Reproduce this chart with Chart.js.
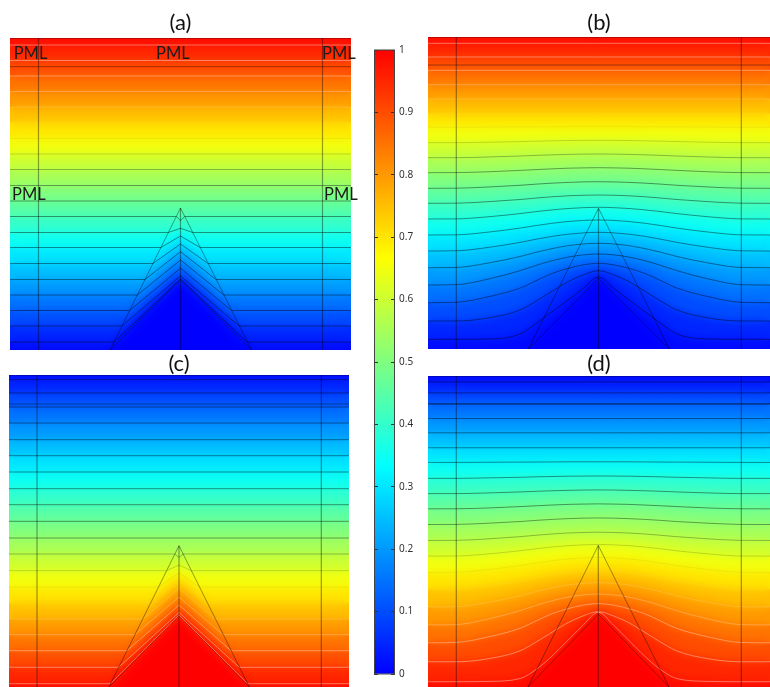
<!DOCTYPE html>
<html>
<head>
<meta charset="utf-8">
<title>Potential field over a triangular ridge</title>
<script src="https://cdn.jsdelivr.net/npm/chart.js"></script>
<style>
  html, body { margin: 0; padding: 0; background: #fff; overflow: hidden; }
  #page { position: relative; width: 770px; height: 687px; overflow: hidden; }
  canvas { position: absolute; }
</style>
</head>
<body>
<div id="page"></div>
<script>
// colour scale of the figure, value -> colour
const scaleValues = [0, 1 / 3, 2 / 3, 1];
const scaleColors = [[0, 0, 255], [0, 255, 255], [255, 255, 0], [255, 0, 0]];
const barTicks = [0, 0.1, 0.2, 0.3, 0.4, 0.5, 0.6, 0.7, 0.8, 0.9, 1];

// contour levels, listed from the top of a panel down
const levelsDown = [0.975, 0.925, 0.875, 0.825, 0.775, 0.725, 0.675, 0.625, 0.575, 0.525,
                    0.475, 0.425, 0.375, 0.325, 0.275, 0.225, 0.175, 0.125, 0.075, 0.025];
const levelsUp = levelsDown.slice().reverse();

// panel (a): straight levels, depth below the top edge
const depthA = [7, 22.5, 38, 53.5, 69, 84.5, 100.5, 116, 131.5, 147.5, 163, 178.5, 194.5, 209.5, 225.5, 241.5, 257, 272.5, 288, 304];
const peakA = [182.7, 190.3, 198, 206, 213.7, 222, 230.3, 238, 241];
const edgeA = [166.3, 158.3, 150.9, 143, 135, 127.3, 119.6, 111.9, 104];

// panel (c)
const depthC = [4.7, 18, 32, 48, 64.7, 80.7, 97, 113.7, 129.7, 146.3, 163, 179, 195.7, 212, 228, 244, 259.7, 275.7, 292.3, 308.7];
const peakC = [182.5, 190, 198, 206, 213.5, 222, 230, 237.5, 240];
const edgeC = [165.9, 157.6, 149.5, 141.6, 133.6, 125.8, 117.9, 109.6, 101.5];

// panels (b) and (d): bent levels, read on these columns up to the middle
const columnsX = [0, 28, 60, 92, 110, 125, 140, 155];
const curvesB = [
  [6.3, 6.3, 6.3, 6.3, 6.3, 6.3, 6.3, 6.3, 6.3],
  [20, 20, 20, 20, 20, 20, 20, 20, 20],
  [33.3, 33.3, 33.3, 33.3, 33.3, 33.3, 33.3, 33.3, 33.3],
  [47.7, 47.7, 47.7, 47.7, 47.7, 47.7, 47.7, 47.7, 47.7],
  [62, 62, 62, 62, 62, 62, 62, 62, 62],
  [76.7, 76.7, 76.7, 76.7, 76.7, 76.7, 76.7, 76.7, 76.7],
  [90.3, 90.3, 90.1, 90, 89.9, 89.8, 89.7, 89.7, 89.7],
  [105.7, 105.7, 105.2, 104.6, 104.1, 103.8, 103.5, 103.4, 103.3],
  [120.7, 120.7, 120, 119, 118.3, 117.8, 117.4, 117.1, 117],
  [135.7, 135.6, 134.8, 133.4, 132.5, 131.8, 131.2, 130.9, 130.7],
  [151.3, 151.2, 150, 148.3, 147, 146.1, 145.4, 144.9, 144.7],
  [166.3, 166.2, 164.7, 162.5, 160.9, 159.7, 158.8, 158.25, 158],
  [182, 181.9, 179.8, 176.6, 174.4, 172.8, 171.5, 170.7, 170.3],
  [198, 197.85, 195.15, 191.1, 188.25, 186.15, 184.5, 183.45, 183],
  [214, 213.8, 210.45, 205.4, 201.85, 199.2, 197.2, 195.9, 195.3],
  [230.7, 230.45, 226.1, 219.5, 214.8, 211.4, 208.7, 207, 206.3],
  [248, 247.7, 242.1, 233.7, 227.8, 223.5, 220.1, 217.9, 217],
  [265.7, 265.3, 259.8, 251.1, 242.8, 236.1, 231.4, 227.9, 226.3],
  [284, 284, 281, 273, 263, 253.7, 244.7, 238, 233.7],
  [302.3, 302.3, 302, 297, 285, 274, 263, 251.5, 240]
];
const curvesD = [
  [6, 6, 6, 6, 6, 6, 6, 6, 6],
  [17, 17, 17, 17, 17, 17, 17, 17, 17],
  [28, 28, 28, 28, 28, 28, 28, 28, 28],
  [42.7, 42.7, 42.7, 42.7, 42.7, 42.7, 42.7, 42.7, 42.7],
  [57, 57, 57, 57, 57, 57, 57, 57, 57],
  [72, 72, 72, 72, 72, 72, 72, 72, 72],
  [86.7, 86.7, 86.5, 86.4, 86.3, 86.2, 86.1, 86.1, 86.1],
  [102.7, 102.7, 102.2, 101.6, 101.1, 100.8, 100.5, 100.4, 100.3],
  [118, 118, 117.3, 116.3, 115.6, 115.1, 114.7, 114.4, 114.3],
  [133.3, 133.2, 132.4, 131, 130.1, 129.4, 128.8, 128.5, 128.3],
  [149, 148.9, 147.7, 146, 144.7, 143.8, 143.1, 142.6, 142.4],
  [165, 164.9, 163.4, 161.2, 159.6, 158.4, 157.5, 157, 156.7],
  [180.7, 180.6, 178.5, 175.3, 173.1, 171.5, 170.2, 169.4, 169],
  [197, 196.85, 194.15, 190.1, 187.25, 185.15, 183.5, 182.45, 182],
  [214, 213.8, 210.45, 205.4, 201.85, 199.2, 197.2, 195.9, 195.3],
  [231.7, 231.45, 227.1, 220.5, 215.8, 212.4, 209.7, 208, 207.3],
  [249.7, 249.4, 243.8, 235.4, 229.5, 225.2, 221.8, 219.6, 218.7],
  [267.7, 267.3, 261.8, 253.1, 244.8, 238.1, 233.4, 229.9, 228.3],
  [286.7, 286.7, 283.7, 275.7, 265.7, 256.4, 247.4, 240.7, 236.4],
  [306.7, 306.7, 306.4, 303.5, 293, 280, 265, 250, 237]
];

// PML captions of panel (a): x, baseline depth
const captions = ["PML", "PML", "PML", "PML", "PML"];
const captionX = [3.7, 146, 312, 2, 314];
const captionDepth = [21, 21, 21, 162, 162];

function colorAt(v) {
  let i = 0;
  while (i < scaleValues.length - 2 && v > scaleValues[i + 1]) i++;
  const t = (v - scaleValues[i]) / (scaleValues[i + 1] - scaleValues[i]);
  const c = scaleColors[i].map((a, k) => Math.round(a + (scaleColors[i + 1][k] - a) * t));
  return `rgb(${c[0]},${c[1]},${c[2]})`;
}

// dark lines low in the scale, pale ones high, nearly gone around yellow
function contourColor(v) {
  if (v < 0.7) return `rgba(0,0,0,${Math.min(0.42, (0.7 - v) * 2.2).toFixed(2)})`;
  return `rgba(255,255,255,${Math.min(0.38, (v - 0.7) * 2).toFixed(2)})`;
}

// straight level with a bent part inside the triangle
function straightLevel(p, i) {
  const d = p.depth[i];
  const k = i - (p.depth.length - p.peak.length);
  if (k < 0) return [{ x: 0, y: d }, { x: p.w, y: d }];
  const e = p.edge[k];
  return [{ x: 0, y: d }, { x: e, y: d }, { x: p.mid, y: p.peak[k] }, { x: 2 * p.mid - e, y: d }, { x: p.w, y: d }];
}

// bent level, the right half mirrors the left one
function bentLevel(p, i) {
  const row = p.curves[i];
  const left = columnsX.map((x, k) => ({ x: x, y: row[k] }));
  const right = columnsX.slice().reverse().map((x, k) => ({ x: x === 0 ? p.w : 2 * p.mid - x, y: row[row.length - 2 - k] }));
  return left.concat([{ x: p.mid, y: row[row.length - 1] }], right);
}

const softenFill = {
  id: "softenFill",
  beforeDraw(chart) { chart.$softened = false; },
  beforeDatasetDraw(chart, args) {
    const ds = chart.data.datasets[args.index];
    if (chart.$softened || !ds.afterFill) return;
    chart.$softened = true;
    const ctx = chart.ctx, a = chart.chartArea;
    ctx.save();
    ctx.beginPath();
    ctx.rect(a.left, a.top, a.right - a.left, a.bottom - a.top);
    ctx.clip();
    ctx.filter = "blur(5px)";
    ctx.drawImage(chart.canvas, 0, 0, chart.width, chart.height);
    ctx.restore();
  }
};

const pmlText = {
  id: "pmlText",
  afterDraw(chart) {
    if (!chart.$captions) return;
    const ctx = chart.ctx;
    ctx.save();
    ctx.font = '16.5px Lato';
    ctx.fillStyle = "#1c1c1c";
    ctx.textBaseline = "alphabetic";
    captions.forEach((t, i) => {
      ctx.fillText(t, chart.scales.x.getPixelForValue(captionX[i]), chart.scales.y.getPixelForValue(captionDepth[i]));
    });
    ctx.restore();
  }
};

function addCanvas(left, top, w, h) {
  const c = document.createElement("canvas");
  c.width = w; c.height = h;
  c.style.left = left + "px"; c.style.top = top + "px";
  c.style.width = w + "px"; c.style.height = h + "px";
  document.getElementById("page").appendChild(c);
  return c;
}

function drawPanel(p) {
  const count = p.levels.length;
  const shape = i => (p.curves ? bentLevel(p, i) : straightLevel(p, i));
  const sets = [];
  let order = 1000;
  const lineSet = (pts, color, extra) => Object.assign({
    data: pts, borderColor: color, borderWidth: 1, pointRadius: 0, fill: false, order: order--, afterFill: true
  }, extra || {});

  // the painted field: each band is filled from its upper level down to the bottom
  const topValue = (p.levels[0] + p.topEnd) / 2;
  sets.push({ data: [{ x: 0, y: 0 }, { x: p.w, y: 0 }], borderWidth: 0, pointRadius: 0, fill: { value: 312 }, backgroundColor: colorAt(topValue), order: order-- });
  for (let i = 0; i < count; i++) {
    const next = i < count - 1 ? p.levels[i + 1] : p.bottomEnd;
    sets.push({
      data: shape(i), borderWidth: 0, pointRadius: 0, fill: { value: 312 },
      backgroundColor: colorAt((p.levels[i] + next) / 2),
      cubicInterpolationMode: p.curves ? "monotone" : "default", order: order--
    });
  }

  // flat top of the ridge, kept sharp
  const base = [{ x: p.baseL, y: 312 }, { x: p.mid, y: p.flat }, { x: p.baseR, y: 312 }];
  sets.push(lineSet(base, "rgba(0,0,0,0.3)", { fill: { value: 312 }, backgroundColor: colorAt(p.bottomEnd) }));

  // contours
  for (let i = 0; i < count; i++) {
    sets.push(lineSet(shape(i), contourColor(p.levels[i]), { cubicInterpolationMode: p.curves ? "monotone" : "default" }));
  }

  // geometry lines
  const geo = "rgba(0,0,0,0.38)";
  sets.push(lineSet([{ x: p.pml[0], y: 0 }, { x: p.pml[0], y: 312 }], geo, { borderWidth: 1.2 }));
  sets.push(lineSet([{ x: p.pml[1], y: 0 }, { x: p.pml[1], y: 312 }], geo, { borderWidth: 1.2 }));
  sets.push(lineSet([{ x: 0, y: p.pmlDepth }, { x: p.w, y: p.pmlDepth }], geo));
  sets.push(lineSet([{ x: p.mid, y: p.apex }, { x: p.mid, y: 312 }], geo, { borderWidth: 1.2 }));
  sets.push(lineSet([{ x: p.baseL, y: 312 }, { x: p.mid, y: p.apex }, { x: p.baseR, y: 312 }], geo));
  sets.push(lineSet([{ x: 0, y: 0.5 }, { x: p.w, y: 0.5 }], "rgba(0,0,0,0.25)"));

  const canvas = addCanvas(p.left, p.top, p.w + p.padRight, p.h + p.head);
  const chart = new Chart(canvas.getContext("2d"), {
    type: "line",
    data: { datasets: sets },
    plugins: [softenFill, pmlText],
    options: {
      responsive: false,
      animation: false,
      layout: { padding: { right: p.padRight } },
      plugins: {
        legend: { display: false },
        tooltip: { enabled: false },
        title: {
          display: true, text: p.name, color: "#111",
          font: { family: "Lato", size: 22, weight: "normal", lineHeight: 1.15 },
          padding: { top: p.titleTop, bottom: p.head - 25.3 - p.titleTop }
        }
      },
      scales: {
        x: { type: "linear", display: false, min: 0, max: p.w },
        y: { type: "linear", display: false, reverse: true, min: 0, max: 312 }
      }
    }
  });
  if (p.showCaptions) { chart.$captions = true; chart.draw(); }
}

drawPanel({ name: "(a)", left: 10, top: 0, w: 341, h: 312, head: 38, titleTop: 10, padRight: 9, mid: 170.5, levels: levelsDown, topEnd: 1, bottomEnd: 0,
  depth: depthA, peak: peakA, edge: edgeA, pml: [28.5, 312.5], pmlDepth: 28.7, apex: 170, flat: 242, baseL: 100, baseR: 241.5, showCaptions: true });
drawPanel({ name: "(b)", left: 428, top: 0, w: 342, h: 312, head: 37, titleTop: 10, padRight: 0, mid: 170.5, levels: levelsDown, topEnd: 1, bottomEnd: 0,
  curves: curvesB, pml: [28.3, 313.3], pmlDepth: 28, apex: 171.3, flat: 241.3, baseL: 100.3, baseR: 241.3 });
drawPanel({ name: "(c)", left: 9, top: 351, w: 340, h: 312, head: 24, titleTop: 0, padRight: 0, mid: 170, levels: levelsUp, topEnd: 0, bottomEnd: 1,
  depth: depthC, peak: peakC, edge: edgeC, pml: [28, 312.3], pmlDepth: 29, apex: 170.7, flat: 240.4, baseL: 100, baseR: 240.3 });
drawPanel({ name: "(d)", left: 428, top: 351, w: 342, h: 311, head: 25, titleTop: 0, padRight: 0, mid: 170.3, levels: levelsUp, topEnd: 0, bottomEnd: 1,
  curves: curvesD, pml: [28.3, 313.3], pmlDepth: 28, apex: 170, flat: 239, baseL: 100, baseR: 241 });

// colour bar
const barCanvas = addCanvas(374, 40, 54, 644);
new Chart(barCanvas.getContext("2d"), {
  type: "bar",
  data: {
    labels: ["value"],
    datasets: [{
      data: [[0, 1]],
      barPercentage: 1,
      categoryPercentage: 1,
      borderWidth: 0,
      backgroundColor(ctx) {
        const a = ctx.chart.chartArea;
        if (!a) return "#fff";
        const grad = ctx.chart.ctx.createLinearGradient(0, a.bottom, 0, a.top);
        scaleValues.forEach((v) => grad.addColorStop(v, colorAt(v)));
        return grad;
      }
    }]
  },
  plugins: [{
    id: "barFrame",
    afterDraw(chart) {
      const a = chart.chartArea, ctx = chart.ctx;
      ctx.save();
      ctx.strokeStyle = "#444";
      ctx.strokeRect(a.left + 0.5, a.top, a.right - a.left - 1, a.bottom - a.top);
      ctx.restore();
    }
  }],
  options: {
    responsive: false,
    animation: false,
    layout: { padding: { top: 3, bottom: 3, left: 0, right: 0 } },
    plugins: { legend: { display: false }, tooltip: { enabled: false }, title: { display: false } },
    scales: {
      x: { display: false },
      y: {
        position: "right", min: 0, max: 1,
        afterBuildTicks(axis) { axis.ticks = barTicks.map(v => ({ value: v })); },
        afterFit(axis) { axis.width = 33; },
        border: { display: false, dash: [4, 13, 4, 0] },
        grid: { z: 1, color: "#333", drawTicks: false },
        ticks: {
          padding: 4, color: "#333", autoSkip: false,
          font: { family: "Noto Sans", size: 10 },
          callback: v => String(v)
        }
      }
    }
  }
});
</script>
</body>
</html>
